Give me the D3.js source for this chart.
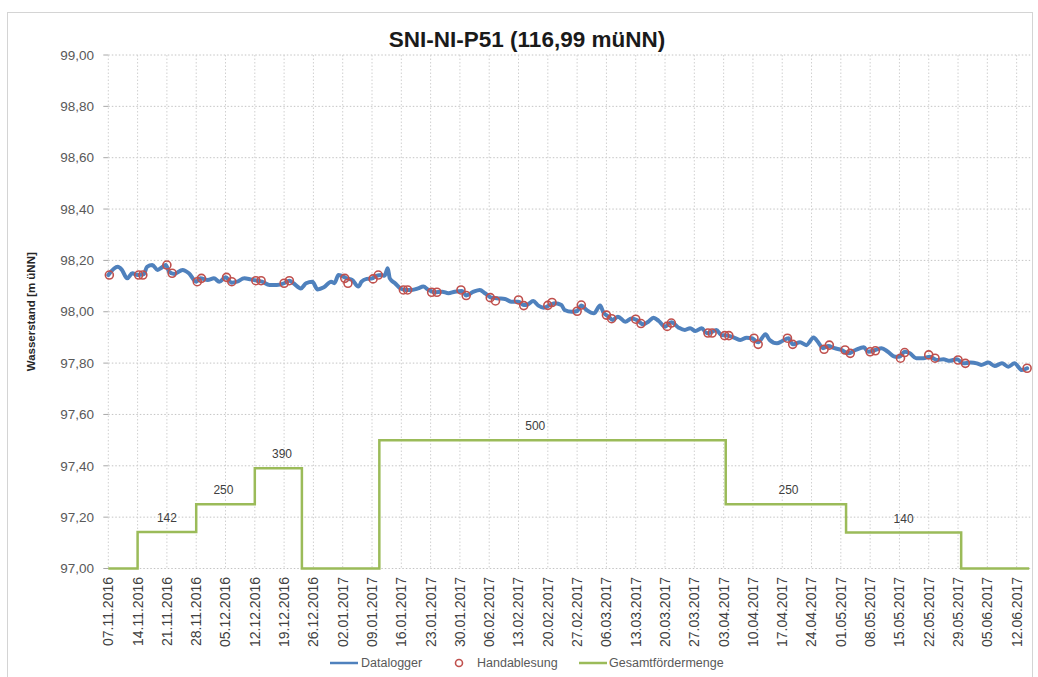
<!DOCTYPE html>
<html><head><meta charset="utf-8">
<script src="https://cdn.jsdelivr.net/npm/d3@7"></script>
<style>body{margin:0;background:#fff}</style>
</head><body><svg id="c" width="1038" height="677"></svg>
<script>
const chartTitle = "SNI-NI-P51 (116,99 müNN)";
const yTitle = "Wasserstand [m üNN]";
const yTickValues = [97.0, 97.2, 97.4, 97.6, 97.8, 98.0, 98.2, 98.4, 98.6, 98.8, 99.0];
const xTickLabels = ["07.11.2016","14.11.2016","21.11.2016","28.11.2016","05.12.2016","12.12.2016","19.12.2016","26.12.2016",
  "02.01.2017","09.01.2017","16.01.2017","23.01.2017","30.01.2017","06.02.2017","13.02.2017","20.02.2017","27.02.2017",
  "06.03.2017","13.03.2017","20.03.2017","27.03.2017","03.04.2017","10.04.2017","17.04.2017","24.04.2017","01.05.2017",
  "08.05.2017","15.05.2017","22.05.2017","29.05.2017","05.06.2017","12.06.2017"];
const xDomain = ["2016-11-07T00", "2017-06-15T00"];

const loggerTimes = ["2016-11-07T00","2016-11-09T06","2016-11-10T06","2016-11-11T12","2016-11-12T18","2016-11-14T00","2016-11-15T12","2016-11-16T06","2016-11-17T12","2016-11-18T18",
"2016-11-19T12","2016-11-20T18","2016-11-21T12","2016-11-22T18","2016-11-24T18","2016-11-26T06","2016-11-28T00","2016-11-29T00","2016-11-30T18","2016-12-02T06",
"2016-12-03T12","2016-12-05T00","2016-12-06T12","2016-12-07T18","2016-12-09T12","2016-12-11T00","2016-12-12T12","2016-12-13T18","2016-12-15T12","2016-12-17T06",
"2016-12-19T00","2016-12-20T06","2016-12-21T06","2016-12-23T00","2016-12-24T06","2016-12-25T18","2016-12-27T00","2016-12-28T12","2016-12-30T06","2016-12-31T00",
"2017-01-01T00","2017-01-01T18","2017-01-03T00","2017-01-04T06","2017-01-05T18","2017-01-06T12","2017-01-07T18","2017-01-09T00","2017-01-10T00","2017-01-11T06",
"2017-01-12T00","2017-01-12T18","2017-01-13T06","2017-01-14T12","2017-01-15T18","2017-01-17T00","2017-01-18T12","2017-01-20T00","2017-01-21T06","2017-01-22T12",
"2017-01-24T00","2017-01-25T18","2017-01-27T06","2017-01-28T18","2017-01-30T12","2017-01-31T12","2017-02-02T06","2017-02-03T18","2017-02-05T00","2017-02-06T12",
"2017-02-08T06","2017-02-09T18","2017-02-11T06","2017-02-13T00","2017-02-14T06","2017-02-15T06","2017-02-16T12","2017-02-17T18","2017-02-19T00","2017-02-20T12",
"2017-02-21T18","2017-02-23T06","2017-02-24T00","2017-02-25T18","2017-02-27T00","2017-02-28T00","2017-03-01T06","2017-03-03T00","2017-03-04T12","2017-03-05T06",
"2017-03-06T12","2017-03-07T12","2017-03-08T18","2017-03-10T12","2017-03-12T00","2017-03-13T06","2017-03-14T18","2017-03-16T00","2017-03-17T06","2017-03-18T12",
"2017-03-20T00","2017-03-21T12","2017-03-23T06","2017-03-24T18","2017-03-26T00","2017-03-27T06","2017-03-28T18","2017-03-30T00","2017-03-31T00","2017-04-01T06",
"2017-04-02T12","2017-04-04T00","2017-04-05T18","2017-04-07T00","2017-04-08T12","2017-04-09T18","2017-04-11T06","2017-04-13T00","2017-04-14T00","2017-04-15T18",
"2017-04-17T00","2017-04-18T12","2017-04-19T12","2017-04-21T06","2017-04-22T18","2017-04-24T12","2017-04-25T12","2017-04-26T18","2017-04-28T00","2017-04-29T12",
"2017-05-01T06","2017-05-02T18","2017-05-04T12","2017-05-06T12","2017-05-07T12","2017-05-09T06","2017-05-10T18","2017-05-12T06","2017-05-14T00","2017-05-15T00",
"2017-05-16T06","2017-05-17T12","2017-05-19T00","2017-05-20T18","2017-05-22T06","2017-05-24T00","2017-05-25T12","2017-05-27T00","2017-05-28T18","2017-05-30T06",
"2017-06-01T00","2017-06-02T12","2017-06-03T12","2017-06-05T06","2017-06-06T18","2017-06-08T12","2017-06-10T00","2017-06-11T12","2017-06-13T06","2017-06-14T12"];
const loggerLevels = [98.143,98.175,98.163,98.130,98.150,98.143,98.147,98.175,98.182,98.163,
98.169,98.182,98.156,98.147,98.163,98.150,98.117,98.130,98.124,98.130,
98.117,98.134,98.113,98.117,98.130,98.126,98.121,98.117,98.104,98.104,
98.111,98.121,98.111,98.091,98.111,98.117,98.087,98.095,98.117,98.111,
98.143,98.140,98.130,98.124,98.098,98.117,98.128,98.130,98.140,98.143,
98.140,98.169,98.130,98.111,98.091,98.085,98.085,98.091,98.098,98.085,
98.076,98.078,98.072,98.078,98.081,98.063,98.078,98.085,98.072,98.055,
98.052,98.050,98.039,98.039,98.026,98.029,98.042,98.024,98.016,98.026,
98.033,98.026,98.007,98.000,98.003,98.024,98.007,97.994,98.024,97.998,
97.981,97.968,97.981,97.961,97.974,97.968,97.951,97.961,97.977,97.964,
97.942,97.959,97.938,97.929,97.936,97.925,97.936,97.916,97.920,97.929,
97.909,97.907,97.897,97.890,97.899,97.897,97.881,97.912,97.890,97.877,
97.886,97.897,97.873,97.881,97.870,97.900,97.883,97.858,97.867,97.858,
97.851,97.838,97.851,97.862,97.844,97.851,97.858,97.844,97.825,97.825,
97.844,97.838,97.819,97.819,97.825,97.812,97.815,97.809,97.815,97.799,
97.802,97.799,97.793,97.802,97.789,97.799,97.786,97.799,97.773,97.780];

const handTimes = ["2016-11-07T06","2016-11-14T06","2016-11-15T06","2016-11-21T00","2016-11-22T06","2016-11-28T06","2016-11-29T06","2016-12-05T06","2016-12-06T12","2016-12-12T06",
"2016-12-13T12","2016-12-19T00","2016-12-20T06","2017-01-02T12","2017-01-03T06","2017-01-09T06","2017-01-10T12","2017-01-16T12","2017-01-17T12","2017-01-23T06",
"2017-01-24T12","2017-01-30T06","2017-01-31T12","2017-02-06T06","2017-02-07T12","2017-02-13T00","2017-02-14T06","2017-02-20T00","2017-02-21T00","2017-02-27T00",
"2017-02-28T00","2017-03-06T00","2017-03-07T06","2017-03-13T00","2017-03-14T06","2017-03-20T12","2017-03-21T12","2017-03-30T06","2017-03-31T06","2017-04-03T06",
"2017-04-04T06","2017-04-10T06","2017-04-11T06","2017-04-18T06","2017-04-19T12","2017-04-27T00","2017-04-28T06","2017-05-02T00","2017-05-03T06","2017-05-08T00",
"2017-05-09T06","2017-05-15T06","2017-05-16T06","2017-05-22T00","2017-05-23T12","2017-05-29T00","2017-05-30T18","2017-06-14T12"];
const handLevels = [98.143,98.143,98.143,98.182,98.150,98.117,98.130,98.134,98.117,98.121,
98.121,98.111,98.121,98.130,98.111,98.128,98.143,98.085,98.085,98.076,
98.076,98.085,98.063,98.055,98.042,98.046,98.024,98.025,98.036,98.002,
98.026,97.987,97.973,97.971,97.954,97.943,97.956,97.917,97.917,97.907,
97.907,97.897,97.873,97.897,97.873,97.854,97.870,97.851,97.838,97.844,
97.848,97.819,97.841,97.832,97.819,97.812,97.799,97.780];

const pumpTimes = ["2016-11-07T00","2016-11-14T00","2016-11-28T00","2016-12-12T00","2016-12-23T06","2017-01-10T18","2017-04-03T12","2017-05-02T06","2017-05-29T18","2017-06-15T00"];
const pumpRates = [0, 142, 250, 390, 0, 500, 250, 140, 0, 0];
const pumpLabelTimes = ["2016-11-21T00","2016-12-04T12","2016-12-18T12","2017-02-17T00","2017-04-18T12","2017-05-16T00"];
const pumpLabelValues = [142, 250, 390, 500, 250, 140];

const legendNames = ["Datalogger", "Handablesung", "Gesamtfördermenge"];

const parse = d3.utcParse("%Y-%m-%dT%H");
const parseTick = d3.utcParse("%d.%m.%Y");
const svg = d3.select("#c");
const font = "'Liberation Sans', Arial, sans-serif";
const pLeft = 108.3, pRight = 1029.2, pTop = 55, pBottom = 568.5;

const x = d3.scaleUtc().domain(xDomain.map(parse)).range([pLeft, pRight]);
const y = d3.scaleLinear().domain([97, 99]).range([pBottom, pTop]);
const yPump = d3.scaleLinear().domain([0, 2000]).range([pBottom, pTop]);

// frame
svg.append("rect").attr("x", 7.5).attr("y", 12.5).attr("width", 1025).attr("height", 680)
  .attr("fill", "none").attr("stroke", "#d4d4d4").attr("stroke-width", 1);

// title
svg.append("text").attr("x", 527).attr("y", 47).attr("text-anchor", "middle")
  .attr("font-family", font).attr("font-weight", "bold").attr("font-size", 22.5).attr("fill", "#1a1a1a")
  .text(chartTitle);

// gridlines
const grid = svg.append("g");
grid.append("g").selectAll("line").data(yTickValues).join("line")
  .attr("x1", pLeft).attr("x2", pRight + 1).attr("y1", d => y(d)).attr("y2", d => y(d))
  .attr("stroke", "#c4c4c4").attr("stroke-dasharray", "1.5,2");
grid.append("g").selectAll("line").data(yTickValues).join("line")
  .attr("x1", pLeft - 5).attr("x2", pLeft).attr("y1", d => y(d)).attr("y2", d => y(d))
  .attr("stroke", "#a8a8a8");
grid.append("g").selectAll("line").data(xTickLabels).join("line")
  .attr("x1", d => x(parseTick(d))).attr("x2", d => x(parseTick(d)))
  .attr("y1", pTop).attr("y2", pBottom)
  .attr("stroke", "#d0d0d0").attr("stroke-dasharray", "1.5,2");

// y axis labels
const fmt = d => d.toFixed(2).replace(".", ",");
svg.append("g").selectAll("text").data(yTickValues).join("text")
  .attr("x", 94).attr("y", d => y(d)).attr("dy", "0.35em").attr("text-anchor", "end")
  .attr("font-family", font).attr("font-size", 13.5).attr("fill", "#595959").text(fmt);

// y title
svg.append("text").attr("transform", `translate(35,${(pTop + pBottom) / 2}) rotate(-90)`)
  .attr("text-anchor", "middle").attr("font-family", font).attr("font-weight", "bold")
  .attr("font-size", 11.5).attr("fill", "#262626").text(yTitle);

// x labels
svg.append("g").selectAll("text").data(xTickLabels).join("text")
  .attr("transform", d => `translate(${x(parseTick(d))},577) rotate(-90)`)
  .attr("text-anchor", "end").attr("dy", "0.35em")
  .attr("font-family", font).attr("font-size", 14).attr("fill", "#404040").text(d => d);

// pump step line
const pumpData = pumpTimes.map((t, i) => ({ t: parse(t), v: pumpRates[i] }));
svg.append("path").datum(pumpData)
  .attr("d", d3.line().x(d => x(d.t)).y(d => yPump(d.v)).curve(d3.curveStepAfter))
  .attr("fill", "none").attr("stroke", "#9bbb59").attr("stroke-width", 2.5);
svg.append("g").selectAll("text").data(pumpLabelTimes).join("text")
  .attr("x", d => x(parse(d))).attr("y", (d, i) => yPump(pumpLabelValues[i]) - 10)
  .attr("text-anchor", "middle").attr("font-family", font).attr("font-size", 12).attr("fill", "#404040")
  .text((d, i) => pumpLabelValues[i]);

// logger line
const loggerData = loggerTimes.map((t, i) => ({ t: parse(t), v: loggerLevels[i] }));
svg.append("path").datum(loggerData)
  .attr("d", d3.line().x(d => x(d.t)).y(d => y(d.v)).curve(d3.curveMonotoneX))
  .attr("fill", "none").attr("stroke", "#4f81bd").attr("stroke-width", 4)
  .attr("stroke-linejoin", "round").attr("stroke-linecap", "round");

// hand readings
svg.append("g").selectAll("circle").data(handTimes).join("circle")
  .attr("cx", d => x(parse(d))).attr("cy", (d, i) => y(handLevels[i])).attr("r", 4)
  .attr("fill", "none").attr("stroke", "#c0504d").attr("stroke-width", 1.6);

// legend
const lg = svg.append("g").attr("font-family", font).attr("font-size", 12.5).attr("fill", "#595959");
const ly = 663;
lg.append("line").attr("x1", 330).attr("x2", 358).attr("y1", ly).attr("y2", ly).attr("stroke", "#4f81bd").attr("stroke-width", 2.5);
lg.append("text").attr("x", 361).attr("y", ly).attr("dy", "0.35em").text(legendNames[0]);
lg.append("circle").attr("cx", 459).attr("cy", ly).attr("r", 3.5).attr("fill", "none").attr("stroke", "#c0504d").attr("stroke-width", 1.6);
lg.append("text").attr("x", 477).attr("y", ly).attr("dy", "0.35em").text(legendNames[1]);
lg.append("line").attr("x1", 579).attr("x2", 607).attr("y1", ly).attr("y2", ly).attr("stroke", "#9bbb59").attr("stroke-width", 2.5);
lg.append("text").attr("x", 609).attr("y", ly).attr("dy", "0.35em").text(legendNames[2]);
</script></body></html>
